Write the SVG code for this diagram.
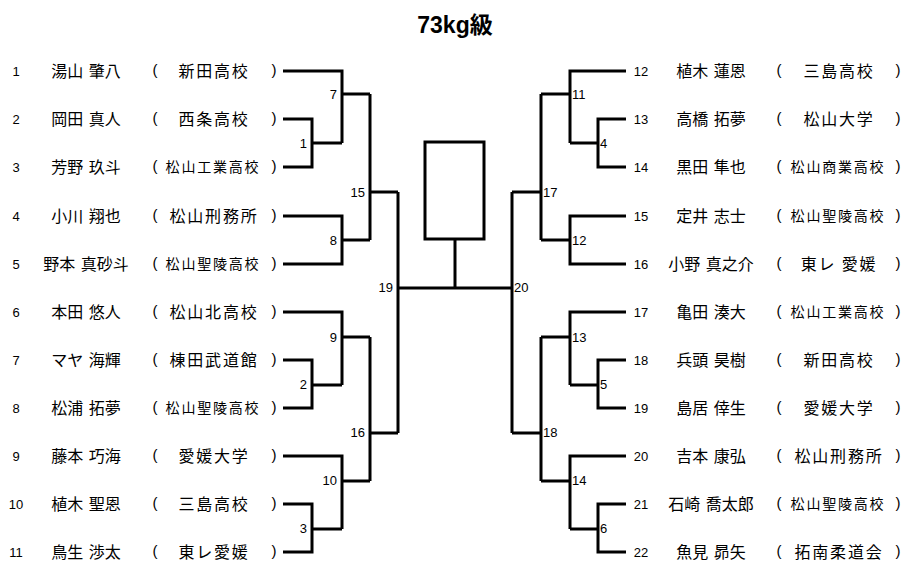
<svg xmlns="http://www.w3.org/2000/svg" width="911" height="577" viewBox="0 0 911 577">
<style>
.ln{fill:none;stroke:#000;stroke-width:3;stroke-linejoin:miter;stroke-linecap:butt}
text{fill:#000}
.sd{font-family:"Liberation Sans","Noto Sans CJK JP",sans-serif;font-size:13px;text-anchor:middle}
.nm{font-family:"Noto Sans CJK JP",sans-serif;font-size:16px;text-anchor:middle;word-spacing:2px}
.sc{font-family:"Noto Sans CJK JP",sans-serif;font-size:16px;text-anchor:middle;letter-spacing:1.8px}
.sc6{font-family:"Noto Sans CJK JP",sans-serif;font-size:14px;text-anchor:middle;letter-spacing:1.8px}
.pr{font-family:"Liberation Sans",sans-serif;font-size:15px;text-anchor:middle}
.ml{font-family:"Liberation Sans",sans-serif;font-size:13px;text-anchor:end}
.mr{font-family:"Liberation Sans",sans-serif;font-size:13px;text-anchor:start}
.tt{font-family:"Liberation Sans","Noto Sans CJK JP",sans-serif;font-size:23px;font-weight:bold;text-anchor:middle}
</style>
<rect width="911" height="577" fill="#fff"/>
<text class="tt" x="455" y="33">73kg級</text>

<g id="entrants-left">
<g id="p1"><text class="sd" x="16" y="76">1</text><text class="nm" x="86" y="77">湯山 肇八</text><text class="pr" x="155" y="75">(</text><text class="sc" x="214" y="77">新田高校</text><text class="pr" x="274" y="75">)</text></g>
<g id="p2"><text class="sd" x="16" y="124">2</text><text class="nm" x="86" y="125">岡田 真人</text><text class="pr" x="155" y="123">(</text><text class="sc" x="214" y="125">西条高校</text><text class="pr" x="274" y="123">)</text></g>
<g id="p3"><text class="sd" x="16" y="172">3</text><text class="nm" x="86" y="173">芳野 玖斗</text><text class="pr" x="155" y="171">(</text><text class="sc6" x="213" y="172">松山工業高校</text><text class="pr" x="274" y="171">)</text></g>
<g id="p4"><text class="sd" x="16" y="221">4</text><text class="nm" x="86" y="222">小川 翔也</text><text class="pr" x="155" y="220">(</text><text class="sc" x="214" y="222">松山刑務所</text><text class="pr" x="274" y="220">)</text></g>
<g id="p5"><text class="sd" x="16" y="269">5</text><text class="nm" x="86" y="270">野本 真砂斗</text><text class="pr" x="155" y="268">(</text><text class="sc6" x="213" y="269">松山聖陵高校</text><text class="pr" x="274" y="268">)</text></g>
<g id="p6"><text class="sd" x="16" y="317">6</text><text class="nm" x="86" y="318">本田 悠人</text><text class="pr" x="155" y="316">(</text><text class="sc" x="214" y="318">松山北高校</text><text class="pr" x="274" y="316">)</text></g>
<g id="p7"><text class="sd" x="16" y="365">7</text><text class="nm" x="86" y="366">マヤ 海輝</text><text class="pr" x="155" y="364">(</text><text class="sc" x="214" y="366">棟田武道館</text><text class="pr" x="274" y="364">)</text></g>
<g id="p8"><text class="sd" x="16" y="413">8</text><text class="nm" x="86" y="414">松浦 拓夢</text><text class="pr" x="155" y="412">(</text><text class="sc6" x="213" y="413">松山聖陵高校</text><text class="pr" x="274" y="412">)</text></g>
<g id="p9"><text class="sd" x="16" y="461">9</text><text class="nm" x="86" y="462">藤本 巧海</text><text class="pr" x="155" y="460">(</text><text class="sc" x="214" y="462">愛媛大学</text><text class="pr" x="274" y="460">)</text></g>
<g id="p10"><text class="sd" x="16" y="509">10</text><text class="nm" x="86" y="510">植木 聖恩</text><text class="pr" x="155" y="508">(</text><text class="sc" x="214" y="510">三島高校</text><text class="pr" x="274" y="508">)</text></g>
<g id="p11"><text class="sd" x="16" y="557">11</text><text class="nm" x="86" y="558">鳥生 渉太</text><text class="pr" x="155" y="556">(</text><text class="sc" x="214" y="558">東レ愛媛</text><text class="pr" x="274" y="556">)</text></g>
</g>

<g id="entrants-right">
<g id="p12"><text class="sd" x="641" y="76">12</text><text class="nm" x="711" y="77">植木 蓮恩</text><text class="pr" x="779" y="75">(</text><text class="sc" x="839" y="77">三島高校</text><text class="pr" x="898" y="75">)</text></g>
<g id="p13"><text class="sd" x="641" y="124">13</text><text class="nm" x="711" y="125">高橋 拓夢</text><text class="pr" x="779" y="123">(</text><text class="sc" x="839" y="125">松山大学</text><text class="pr" x="898" y="123">)</text></g>
<g id="p14"><text class="sd" x="641" y="172">14</text><text class="nm" x="711" y="173">黒田 隼也</text><text class="pr" x="779" y="171">(</text><text class="sc6" x="838" y="172">松山商業高校</text><text class="pr" x="898" y="171">)</text></g>
<g id="p15"><text class="sd" x="641" y="221">15</text><text class="nm" x="711" y="222">定井 志士</text><text class="pr" x="779" y="220">(</text><text class="sc6" x="838" y="221">松山聖陵高校</text><text class="pr" x="898" y="220">)</text></g>
<g id="p16"><text class="sd" x="641" y="269">16</text><text class="nm" x="711" y="270">小野 真之介</text><text class="pr" x="779" y="268">(</text><text class="sc" x="839" y="270">東レ 愛媛</text><text class="pr" x="898" y="268">)</text></g>
<g id="p17"><text class="sd" x="641" y="317">17</text><text class="nm" x="711" y="318">亀田 湊大</text><text class="pr" x="779" y="316">(</text><text class="sc6" x="838" y="317">松山工業高校</text><text class="pr" x="898" y="316">)</text></g>
<g id="p18"><text class="sd" x="641" y="365">18</text><text class="nm" x="711" y="366">兵頭 昊樹</text><text class="pr" x="779" y="364">(</text><text class="sc" x="839" y="366">新田高校</text><text class="pr" x="898" y="364">)</text></g>
<g id="p19"><text class="sd" x="641" y="413">19</text><text class="nm" x="711" y="414">島居 倖生</text><text class="pr" x="779" y="412">(</text><text class="sc" x="839" y="414">愛媛大学</text><text class="pr" x="898" y="412">)</text></g>
<g id="p20"><text class="sd" x="641" y="461">20</text><text class="nm" x="711" y="462">吉本 康弘</text><text class="pr" x="779" y="460">(</text><text class="sc" x="839" y="462">松山刑務所</text><text class="pr" x="898" y="460">)</text></g>
<g id="p21"><text class="sd" x="641" y="509">21</text><text class="nm" x="711" y="510">石崎 喬太郎</text><text class="pr" x="779" y="508">(</text><text class="sc6" x="838" y="509">松山聖陵高校</text><text class="pr" x="898" y="508">)</text></g>
<g id="p22"><text class="sd" x="641" y="557">22</text><text class="nm" x="711" y="558">魚見 昴矢</text><text class="pr" x="779" y="556">(</text><text class="sc" x="839" y="558">拓南柔道会</text><text class="pr" x="898" y="556">)</text></g>
</g>

<g id="champion"><rect class="ln" x="425" y="142" width="59" height="97"/></g>

<g id="connectors">
<path class="ln" d="M283,119H312V167H283M312,143H342"/>
<path class="ln" d="M283,71H342V143M342,94H370"/>
<path class="ln" d="M283,216H342V264H283M342,240H370"/>
<path class="ln" d="M370,94V240M370,192H398"/>
<path class="ln" d="M283,360H312V408H283M312,385H342"/>
<path class="ln" d="M283,312H342V385M342,337H370"/>
<path class="ln" d="M283,504H312V552H283M312,529H342"/>
<path class="ln" d="M283,456H342V529M342,481H370"/>
<path class="ln" d="M370,337V481M370,433H398"/>
<path class="ln" d="M398,192V433M398,288H512"/>
<path class="ln" d="M455,239V288"/>
<path class="ln" d="M512,192V433"/>
<path class="ln" d="M541,94V240M512,192H541"/>
<path class="ln" d="M626,71H570V143M541,94H570"/>
<path class="ln" d="M626,119H598V167H626M570,143H598"/>
<path class="ln" d="M626,216H570V264H626M541,240H570"/>
<path class="ln" d="M541,337V481M512,433H541"/>
<path class="ln" d="M626,312H570V385M541,337H570"/>
<path class="ln" d="M626,360H598V408H626M570,385H598"/>
<path class="ln" d="M626,456H570V529M541,481H570"/>
<path class="ln" d="M626,504H598V552H626M570,529H598"/>
</g>

<g id="match-labels">
<text class="ml" x="307" y="148">1</text>
<text class="ml" x="337" y="99">7</text>
<text class="ml" x="337" y="245">8</text>
<text class="ml" x="365" y="197">15</text>
<text class="ml" x="307" y="389">2</text>
<text class="ml" x="337" y="342">9</text>
<text class="ml" x="307" y="533">3</text>
<text class="ml" x="337" y="485">10</text>
<text class="ml" x="365" y="437">16</text>
<text class="ml" x="393" y="292">19</text>
<text class="mr" x="514" y="292">20</text>
<text class="mr" x="543" y="197">17</text>
<text class="mr" x="572" y="99">11</text>
<text class="mr" x="600" y="148">4</text>
<text class="mr" x="572" y="245">12</text>
<text class="mr" x="543" y="437">18</text>
<text class="mr" x="572" y="342">13</text>
<text class="mr" x="600" y="389">5</text>
<text class="mr" x="572" y="485">14</text>
<text class="mr" x="600" y="533">6</text>
</g>
</svg>
